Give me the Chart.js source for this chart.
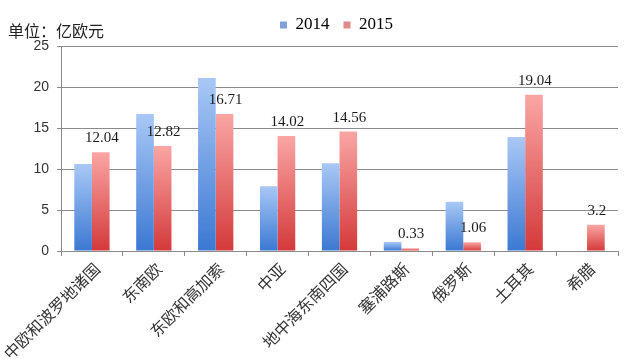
<!DOCTYPE html>
<html><head><meta charset="utf-8">
<script src="https://cdn.jsdelivr.net/npm/chart.js@4"></script>
<style>html,body{margin:0;padding:0;background:#fff}#wrap{width:624px;height:359px;position:relative}</style>
</head><body><div id="wrap"><canvas id="c" width="624" height="359"></canvas></div>
<script>
const categories = ['中欧和波罗地诸国', '东南欧', '东欧和高加索', '中亚', '地中海东南四国', '塞浦路斯', '俄罗斯', '土耳其', '希腊'];
const values2014 = [10.6, 16.7, 21.1, 7.9, 10.7, 1.1, 6.0, 13.9, 0];
const values2015 = [12.04, 12.82, 16.71, 14.02, 14.56, 0.33, 1.06, 19.04, 3.2];
const labels2015 = ['12.04', '12.82', '16.71', '14.02', '14.56', '0.33', '1.06', '19.04', '3.2'];
const seriesNames = ['2014', '2015'];
const yTicks = [0, 5, 10, 15, 20, 25];
const unitTitle = '单位：亿欧元';

function gradFill(top, bottom) {
  return function (ctx) {
    const chart = ctx.chart;
    const y = chart.scales.y;
    if (!y || ctx.raw == null) return bottom;
    const yTop = y.getPixelForValue(ctx.raw);
    const yBot = y.getPixelForValue(0);
    if (!isFinite(yTop) || !isFinite(yBot) || Math.abs(yBot - yTop) < 1) return top;
    const g = chart.ctx.createLinearGradient(0, yTop, 0, yBot);
    g.addColorStop(0, top);
    g.addColorStop(1, bottom);
    return g;
  };
}

const titlePlugin = {
  id: 'unitTitle',
  afterLayout(chart) {
    const lg = chart.legend;
    if (lg) { lg.top -= 2.5; lg.bottom -= 2.5; lg.left -= 3; lg.right -= 3; }
  },
  afterDraw(chart) {
    const c = chart.ctx;
    c.save();
    c.font = '16px "Noto Sans CJK SC"';
    c.fillStyle = '#222';
    c.textBaseline = 'middle';
    c.textAlign = 'left';
    c.fillText(unitTitle, 8, 31);
    c.restore();
  }
};

const labelPlugin = {
  id: 'valueLabels',
  afterDatasetsDraw(chart) {
    const meta = chart.getDatasetMeta(1);
    const c = chart.ctx;
    c.save();
    c.font = '15px "Liberation Serif"';
    c.fillStyle = '#1a1a1a';
    c.textAlign = 'center';
    c.textBaseline = 'alphabetic';
    meta.data.forEach((el, i) => {
      c.fillText(labels2015[i], el.x + 1, el.y - 10);
    });
    c.restore();
  }
};

new Chart(document.getElementById('c'), {
  type: 'bar',
  data: {
    labels: categories,
    datasets: [
      { label: seriesNames[0], data: values2014, backgroundColor: gradFill('#a9c8f6', '#3b78d2'), borderWidth: 0 },
      { label: seriesNames[1], data: values2015, backgroundColor: gradFill('#faa6a4', '#d4393a'), borderWidth: 0 }
    ]
  },
  options: {
    responsive: false,
    devicePixelRatio: 1,
    animation: false,
    layout: { padding: { top: 5, right: 6, left: 0, bottom: 0 } },
    datasets: { bar: { categoryPercentage: 0.57, barPercentage: 1.0 } },
    plugins: {
      title: { display: false },
      tooltip: { enabled: false },
      legend: {
        display: true,
        position: 'top',
        fullSize: false,
        labels: {
          boxWidth: 7, boxHeight: 7, padding: 14,
          color: '#222',
          font: { family: 'Liberation Serif', size: 17 },
          generateLabels(chart) {
            const cols = ['#7fa2d8', '#e08a8c'];
            return chart.data.datasets.map((d, i) => ({
              text: d.label, fillStyle: cols[i], strokeStyle: cols[i], lineWidth: 0, datasetIndex: i, hidden: false
            }));
          }
        }
      }
    },
    scales: {
      x: {
        grid: { display: true, offset: true, drawOnChartArea: false, drawTicks: true, tickLength: 5, color: '#8a8a8a' },
        border: { display: true, color: '#8a8a8a' },
        ticks: {
          color: '#333',
          font: { family: 'Noto Sans CJK SC', size: 16 },
          minRotation: 45, maxRotation: 45, autoSkip: false, padding: 3, labelOffset: 5
        },
        afterFit(scale) { scale.height = 108; scale.paddingLeft = 0; scale.paddingRight = 0; }
      },
      y: {
        min: 0, max: 25,
        afterBuildTicks(scale) { scale.ticks = yTicks.map(v => ({ value: v })); },
        grid: { color: '#8a8a8a', tickLength: 4, drawTicks: true },
        border: { display: true, color: '#8a8a8a' },
        ticks: { color: '#333', font: { family: 'Liberation Sans', size: 14 }, padding: 8 },
        afterFit(scale) { scale.width = 61; scale.paddingTop = 0; scale.paddingBottom = 0; }
      }
    }
  },
  plugins: [titlePlugin, labelPlugin]
});
</script></body></html>
